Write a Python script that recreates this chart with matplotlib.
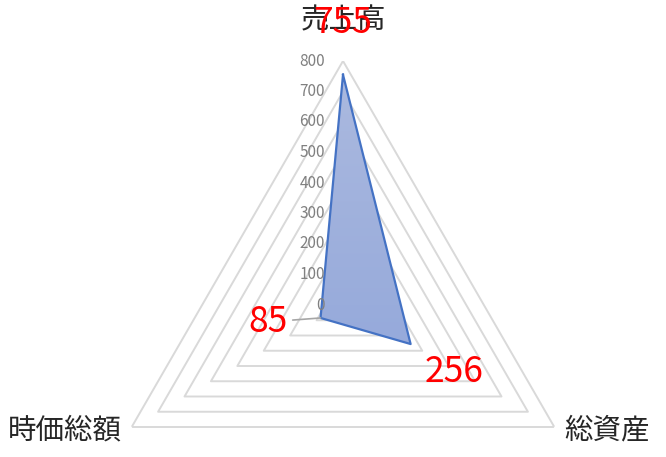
import numpy as np
import matplotlib
matplotlib.use("Agg")
import matplotlib.pyplot as plt
from matplotlib.colors import LinearSegmentedColormap

plt.rcParams['font.family'] = ['Noto Sans CJK JP', 'DejaVu Sans']

# データ
categories = ["売上高", "総資産", "時価総額"]
values = [755, 256, 85]
levels = [0, 100, 200, 300, 400, 500, 600, 700, 800]

W, H = 666, 457
fig = plt.figure(figsize=(W / 100, H / 100), dpi=100)

# 中心 (343, 305) px, 半径 244 px
cx, cy, R = 343, 305, 244
rect = [(cx - R) / W, (H - cy - R) / H, 2 * R / W, 2 * R / H]
ax = fig.add_axes(rect, projection='polar')
ax.set_theta_offset(np.pi / 2)
ax.set_theta_direction(-1)
ax.set_ylim(0, 800)
ax.grid(False)
ax.set_xticks([])
ax.set_yticks([])
ax.spines['polar'].set_visible(False)
ax.patch.set_alpha(0)

n = len(categories)
theta = np.arange(n) * 2 * np.pi / n
theta_c = np.append(theta, theta[0])

# 目盛線（三角形）
for lv in levels[1:]:
    ax.plot(theta_c, [lv] * (n + 1), color='#d9d9d9', lw=1.4, zorder=1)

# データ
vals_c = np.append(values, values[0])
poly = ax.fill(theta_c, vals_c, facecolor='#9aaddc', edgecolor='none', zorder=2)[0]

# グラデーション
gax = fig.add_axes(rect)
gax.set_axis_off()
grad = np.linspace(0, 1, 256).reshape(-1, 1)
cmap = LinearSegmentedColormap.from_list('g', ['#acbadf', '#869ed8'])
im = gax.imshow(grad, cmap=cmap, aspect='auto', extent=[0, 1, 0, 1],
                origin='upper')
gax.patch.set_alpha(0)
im.set_clip_path(poly)

# 枠線を上に
ax2 = fig.add_axes(rect, projection='polar')
ax2.set_theta_offset(np.pi / 2)
ax2.set_theta_direction(-1)
ax2.set_ylim(0, 800)
ax2.grid(False)
ax2.set_xticks([])
ax2.set_yticks([])
ax2.spines['polar'].set_visible(False)
ax2.patch.set_alpha(0)
ax2.plot(theta_c, vals_c, color='#4472c4', lw=1.6)

# 軸ラベル
for lv in levels:
    ax2.annotate(str(lv), (0, lv), xytext=(-18, 0), textcoords='offset pixels',
                 ha='right', va='center', fontsize=11, color='#808080',
                 annotation_clip=False)

# 項目名
cat_off = [((0, 41), 'center'), ((10, -3), 'left'), ((-10, -3), 'right')]
for t, name, (off, ha) in zip(theta, categories, cat_off):
    ax2.annotate(name, (t, 800), xytext=off, textcoords='offset pixels',
                 ha=ha, va='center', fontsize=20.5, color='#262626',
                 annotation_clip=False)

# データラベル
lab_off = [(0, 52), (43, -28), (-53, -4)]
for i, (t, v, off) in enumerate(zip(theta, values, lab_off)):
    kw = {}
    if i == 2:
        kw['arrowprops'] = dict(arrowstyle='-', color='#a6a6a6', lw=1.2,
                                shrinkA=2, shrinkB=0)
    ax2.annotate(str(v), (t, v), xytext=off, textcoords='offset pixels',
                 ha='center', va='center', fontsize=25.5, color='#ff0000',
                 annotation_clip=False, **kw)

fig.savefig('out.png', dpi=100)
